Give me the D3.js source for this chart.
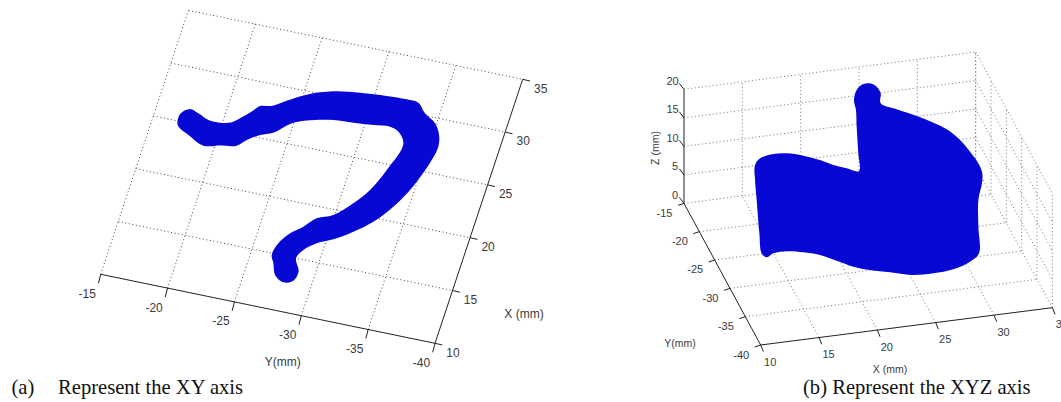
<!DOCTYPE html>
<html>
<head>
<meta charset="utf-8">
<script src="https://cdn.jsdelivr.net/npm/d3@7"></script>
<style>
  html, body { margin: 0; padding: 0; background: #fff; overflow: hidden; }
  svg { display: block; }
  text { font-family: "Liberation Sans", Arial, sans-serif; fill: #3a3a3a; }
  .caption { font-family: "Liberation Serif", "Times New Roman", serif; font-size: 20.6px; fill: #111; }
</style>
</head>
<body>
<svg id="chart" width="1061" height="402"></svg>
<script>
// tick values shared by both plots
const xTicks = [10, 15, 20, 25, 30, 35];
const yTicks = [-15, -20, -25, -30, -35, -40];
const zTicks = [0, 5, 10, 15, 20];

// panel (a): outline of the scanned track seen from above
const topY = [-16.82, -16.86, -17.41, -18.09, -18.95, -19.83, -20.64, -21.22, -21.79, -22.24, -23.05, -23.98, -25.24, -27.03, -28.93, -30.87, -32.35, -33.24, -33.96, -34.89, -35.44, -35.66, -35.51, -35.16, -34.69, -33.91, -32.86, -31.69, -30.47, -29.40, -28.62, -28.30, -28.79, -28.63, -27.97, -27.22, -26.83, -26.52, -26.71, -27.30, -28.07, -28.81, -29.90, -31.03, -31.89, -32.59, -33.15, -32.52, -31.82, -30.61, -29.16, -27.70, -25.84, -24.76, -23.79, -22.91, -22.10, -21.53, -20.36, -19.19, -17.90, -17.00];
const topX = [24.93, 25.73, 26.29, 26.05, 25.65, 25.62, 25.87, 26.49, 27.18, 27.83, 28.05, 28.79, 29.69, 30.47, 30.84, 31.04, 31.11, 31.02, 30.20, 29.50, 28.54, 27.49, 26.19, 24.67, 23.13, 21.35, 19.65, 18.40, 17.36, 16.70, 15.86, 14.99, 13.86, 12.96, 12.63, 13.13, 14.13, 14.84, 16.00, 17.10, 17.93, 18.91, 19.51, 20.91, 22.40, 24.48, 27.09, 28.09, 28.38, 28.22, 28.06, 27.93, 27.39, 26.79, 25.71, 25.26, 24.58, 23.89, 23.59, 23.28, 23.95, 24.51];

// panel (b): outline of the swept wall in 3D
const wallX = [13.46, 13.89, 15.03, 16.17, 17.60, 19.03, 20.17, 21.31, 22.37, 24.15, 24.01, 23.95, 23.78, 24.01, 24.53, 25.15, 25.73, 26.07, 26.07, 27.44, 29.16, 30.59, 31.73, 32.87, 33.73, 34.44, 34.78, 32.65, 32.34, 32.34, 30.29, 29.52, 28.09, 26.38, 24.52, 22.66, 20.95, 19.52, 18.09, 16.66, 15.23, 13.80, 12.66, 12.09, 11.66, 13.83, 13.60, 13.46];
const wallY = [-25, -25, -25, -25, -25, -25, -25, -25, -25, -18, -18, -18, -18, -18, -18, -18, -18, -18, -18, -18, -18, -18, -18, -18, -18, -18, -18, -26, -26, -26, -34, -34, -34, -34, -34, -34, -34, -34, -34, -34, -34, -34, -34, -34, -34, -25, -25, -25];
const wallZ = [15.76, 16.82, 17.28, 17.10, 16.32, 15.18, 14.00, 13.12, 12.37, 8.05, 12.76, 15.70, 17.50, 19.19, 20.06, 20.06, 19.33, 18.07, 16.32, 14.91, 13.29, 11.74, 10.27, 8.11, 5.83, 3.60, 1.75, 8.51, 5.67, 1.00, 4.80, 3.54, 2.57, 2.32, 2.51, 3.47, 4.33, 5.29, 6.71, 8.08, 8.92, 9.47, 9.42, 8.87, 9.68, 3.67, 9.58, 13.13];

const blue = "#0808d4";
const svg = d3.select("#chart");

// each data axis moves the point along its own screen direction, so every
// projection is just a sum of linear scales
function axisVector(domain, dx, dy) {
    return {
        x: d3.scaleLinear().domain(domain).range([0, dx]),
        y: d3.scaleLinear().domain(domain).range([0, dy])
    };
}

function drawSegments(g, segs, project, color) {
    g.append("g").selectAll("line")
        .data(segs)
        .enter().append("line")
        .attr("x1", d => project(d[0])[0])
        .attr("y1", d => project(d[0])[1])
        .attr("x2", d => project(d[1])[0])
        .attr("y2", d => project(d[1])[1])
        .attr("stroke", color)
        .attr("stroke-width", 1)
        .attr("stroke-dasharray", "1 2.6");
}

function drawAxis(g, from, to, ticks, makePoint, project, tick, offset, fontSize) {
    const a = project(makePoint(from));
    const b = project(makePoint(to));
    g.append("line")
        .attr("x1", a[0]).attr("y1", a[1]).attr("x2", b[0]).attr("y2", b[1])
        .attr("stroke", "#222").attr("stroke-width", 1);

    const marks = g.append("g").selectAll("g")
        .data(ticks)
        .enter().append("g")
        .attr("transform", d => `translate(${project(makePoint(d))})`);
    marks.append("line")
        .attr("x2", tick[0]).attr("y2", tick[1])
        .attr("stroke", "#222").attr("stroke-width", 1);
    marks.append("text")
        .attr("x", d => (typeof offset === "function" ? offset(d) : offset)[0])
        .attr("y", d => (typeof offset === "function" ? offset(d) : offset)[1])
        .attr("text-anchor", "middle")
        .attr("dominant-baseline", "central")
        .attr("font-size", fontSize)
        .text(d => d);
}

// the scanned points form a soft edge, so round the traced outline off
const outlineCurve = d3.curveCatmullRomClosed.alpha(0.5);

// ==========================================
// PANEL A: XY VIEW
// ==========================================
const leftG = svg.append("g");
const aY = axisVector([-15, -40], 334.3, 69);
const aX = axisVector([10, 35], 87.7, -264);
const projA = p => [100.7 + aY.x(p.y) + aX.x(p.x), 274.3 + aY.y(p.y) + aX.y(p.x)];

const gridA = [];
xTicks.slice(1).forEach(x => gridA.push([{ x, y: -15 }, { x, y: -40 }]));
yTicks.slice(0, -1).forEach(y => gridA.push([{ x: 10, y }, { x: 35, y }]));
drawSegments(leftG, gridA, projA, "#444");

drawAxis(leftG, -15, -40, yTicks, y => ({ x: 10, y }), projA, [-2.3, 9], [-13.5, 19.5], 12);
drawAxis(leftG, 10, 35, xTicks, x => ({ x, y: -40 }), projA, [7.3, 1.7], [18, 9.3], 12);

const lineA = d3.line()
    .x(i => projA({ x: topX[i], y: topY[i] })[0])
    .y(i => projA({ x: topX[i], y: topY[i] })[1])
    .curve(outlineCurve);
leftG.append("path")
    .attr("d", lineA(d3.range(topX.length)))
    .attr("fill", blue);

leftG.append("text").attr("x", 524).attr("y", 314).attr("text-anchor", "middle")
    .attr("dominant-baseline", "central").attr("font-size", 12).text("X (mm)");
leftG.append("text").attr("x", 282.7).attr("y", 362).attr("text-anchor", "middle")
    .attr("dominant-baseline", "central").attr("font-size", 12).text("Y(mm)");

// ==========================================
// PANEL B: XYZ VIEW
// ==========================================
const rightG = svg.append("g");
const bX = axisVector([10, 35], 291.67, -37.33);
const bY = axisVector([-40, -15], -76.67, -141.67);
const bZ = axisVector([0, 20], 0, -114);
const projB = p => [760.67 + bX.x(p.x) + bY.x(p.y), 345 + bX.y(p.x) + bY.y(p.y) + bZ.y(p.z)];

const gridB = [];
// floor
xTicks.slice(1).forEach(x => gridB.push([{ x, y: -40, z: 0 }, { x, y: -15, z: 0 }]));
yTicks.slice(0, -1).forEach(y => gridB.push([{ x: 10, y, z: 0 }, { x: 35, y, z: 0 }]));
// back wall
xTicks.forEach(x => { if (x > 10) gridB.push([{ x, y: -15, z: 0 }, { x, y: -15, z: 20 }]); });
zTicks.slice(1).forEach(z => gridB.push([{ x: 10, y: -15, z }, { x: 35, y: -15, z }]));
// side wall
yTicks.forEach(y => gridB.push([{ x: 35, y, z: 0 }, { x: 35, y, z: 20 }]));
zTicks.slice(1).forEach(z => gridB.push([{ x: 35, y: -15, z }, { x: 35, y: -40, z }]));
drawSegments(rightG, gridB, projB, "#777");

drawAxis(rightG, 0, 20, zTicks, z => ({ x: 10, y: -15, z }), projB, [-4.7, -6],
    z => (z < 10 ? [-9, -8.5] : [-11.5, -8.5]), 11);
drawAxis(rightG, -15, -40, yTicks, y => ({ x: 10, y, z: 0 }), projB, [-6, 2], [-19.5, 9.5], 11);
drawAxis(rightG, 10, 35, xTicks, x => ({ x, y: -40, z: 0 }), projB, [2.7, 6.7], [9.5, 16.5], 11);

const lineB = d3.line()
    .x(i => projB({ x: wallX[i], y: wallY[i], z: wallZ[i] })[0])
    .y(i => projB({ x: wallX[i], y: wallY[i], z: wallZ[i] })[1])
    .curve(outlineCurve);
rightG.append("path")
    .attr("d", lineB(d3.range(wallX.length)))
    .attr("fill", blue);

rightG.append("text").attr("x", 890).attr("y", 369).attr("text-anchor", "middle")
    .attr("dominant-baseline", "central").attr("font-size", 10.5).text("X (mm)");
rightG.append("text").attr("x", 680).attr("y", 342.7).attr("text-anchor", "middle")
    .attr("dominant-baseline", "central").attr("font-size", 10.5).text("Y(mm)");
rightG.append("text").attr("text-anchor", "middle").attr("dominant-baseline", "central")
    .attr("font-size", 10.5)
    .attr("transform", "translate(655,148) rotate(-90)")
    .text("Z (mm)");

// ==========================================
// CAPTIONS
// ==========================================
svg.append("text").attr("class", "caption").attr("x", 11.5).attr("y", 394).text("(a)");
svg.append("text").attr("class", "caption").attr("x", 58).attr("y", 394).text("Represent the XY axis");
svg.append("text").attr("class", "caption").attr("x", 803).attr("y", 394).text("(b) Represent the XYZ axis");
</script>
</body>
</html>
